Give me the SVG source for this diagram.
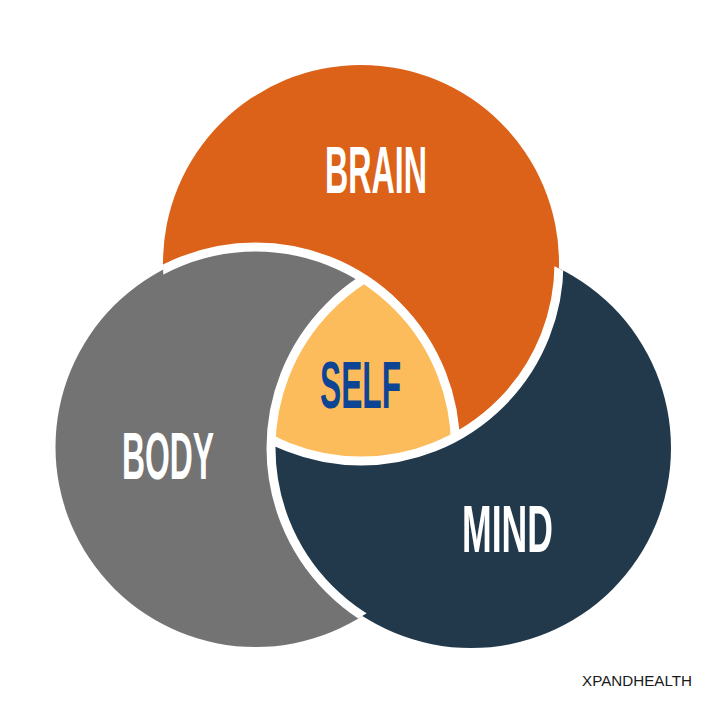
<svg xmlns="http://www.w3.org/2000/svg" width="720" height="720" viewBox="0 0 720 720">
  <style>
    .orange { fill: #dc6219; }
    .navy { fill: #21394b; }
    .grey { fill: #737373; }
    .yellow { fill: #fdbc5c; }
    .band { fill: none; stroke: #ffffff; stroke-width: 9; }
    .label { font-family: "Liberation Sans", Arial, sans-serif; font-weight: bold; font-size: 67px; text-anchor: middle; }
    .white { fill: #ffffff; }
    .blue { fill: #0d4494; }
    .credit { font-family: "Liberation Sans", Arial, sans-serif; font-size: 15px; fill: #1a1a1a; }
  </style>
  <defs>
    <clipPath id="clipBrain"><circle cx="361" cy="263" r="198"/></clipPath>
    <clipPath id="clipMind"><circle cx="471" cy="448" r="200"/></clipPath>
    <clipPath id="clipBody"><circle cx="255.5" cy="447" r="200"/></clipPath>
    <clipPath id="clipMindWide"><circle cx="471" cy="448" r="203"/></clipPath>
    <clipPath id="clipBodyWide"><circle cx="255.5" cy="447" r="203"/></clipPath>
  </defs>

  <rect width="720" height="720" fill="#ffffff"/>

  <g id="brain">
    <circle class="orange" cx="361" cy="263" r="198"/>
    <text class="label white" x="376" y="193" textLength="102" lengthAdjust="spacingAndGlyphs">BRAIN</text>
  </g>

  <g id="mind">
    <circle class="navy" cx="471" cy="448" r="200"/>
    <text class="label white" x="507.5" y="552" textLength="91" lengthAdjust="spacingAndGlyphs">MIND</text>
  </g>

  <g id="brain-over-mind" clip-path="url(#clipMindWide)">
    <circle class="orange" cx="361" cy="263" r="198"/>
  </g>

  <g id="body">
    <circle class="grey" cx="255.5" cy="447" r="200"/>
    <text class="label white" x="168" y="479" textLength="92" lengthAdjust="spacingAndGlyphs">BODY</text>
  </g>

  <g id="mind-over-body" clip-path="url(#clipBodyWide)">
    <circle class="navy" cx="471" cy="448" r="200"/>
  </g>

  <g id="self">
    <g clip-path="url(#clipMind)">
      <g clip-path="url(#clipBody)">
        <circle class="yellow" cx="361" cy="263" r="198"/>
      </g>
    </g>
    <text class="label blue" x="360.5" y="408" textLength="81" lengthAdjust="spacingAndGlyphs">SELF</text>
  </g>

  <g id="borders">
    <circle class="band" cx="361" cy="263" r="198" clip-path="url(#clipMind)"/>
    <circle class="band" cx="255.5" cy="447" r="200" clip-path="url(#clipBrain)"/>
    <circle class="band" cx="471" cy="448" r="200" clip-path="url(#clipBody)"/>
  </g>

  <text class="credit" x="582" y="686" textLength="110" lengthAdjust="spacingAndGlyphs">XPANDHEALTH</text>
</svg>
